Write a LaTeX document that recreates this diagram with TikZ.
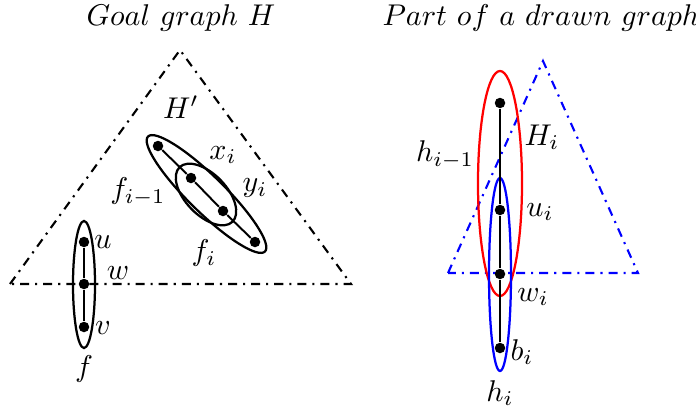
\documentclass[tikz,border=0pt]{standalone}
\usetikzlibrary{shapes.geometric}
\tikzset{
  vtx/.style={circle, fill=black, inner sep=0pt, minimum size=3.5pt},
  ring/.style={draw, ellipse, inner sep=0pt, line width=0.75pt},
  tri/.style={line width=0.7pt, dash dot},
  gedge/.style={line width=0.65pt},
  lbl/.style={inner sep=0pt},
}
\begin{document}
\begin{tikzpicture}[x=0.33333pt, y=0.33333pt]
\useasboundingbox (0,0) rectangle (696,412);
% ---------- left: goal graph
\node[lbl] (t1) at (181,394) {$Goal\ graph\ H$};
\coordinate (A) at (180,362);
\coordinate (B) at (10,128);
\coordinate (C) at (351,128);
\draw[tri] (B) -- (A) -- (C) -- cycle;
\node[ring, minimum width=54.67pt, minimum height=12pt, rotate=-44.5] (fim1) at (206.5,218) {};
\node[ring, minimum width=25.33pt, minimum height=13.67pt, rotate=-46] (fi) at (206,217.5) {};
\node[vtx] (p1) at (158,266) {};
\node[vtx] (p2) at (191,234) {};
\node[vtx] (p3) at (223,201) {};
\node[vtx] (p4) at (255,170) {};
\draw[gedge] (p1) -- (p2) -- (p3) -- (p4);
\node[ring, minimum width=7.33pt, minimum height=42.33pt] (f) at (84,127.5) {};
\node[vtx] (u) at (84,170) {};
\node[vtx] (w) at (84,128) {};
\node[vtx] (v) at (84,85) {};
\draw[gedge] (u) -- (w) -- (v);
\node[lbl] (lHp) at (181,305) {$H'$};
\node[lbl] (lx) at (223,257) {$x_i$};
\node[lbl] (ly) at (255,224) {$y_i$};
\node[lbl] (lfim1) at (138,220) {$f_{i-1}$};
\node[lbl] (lfi) at (204,159) {$f_i$};
\node[lbl] (lu) at (103,170) {$u$};
\node[lbl] (lw) at (118,139) {$w$};
\node[lbl] (lv) at (103,84) {$v$};
\node[lbl] (lf) at (84,43) {$f$};
% ---------- right: part of a drawn graph
\node[lbl] (t2) at (541,394) {$Part\ of\ a\ drawn\ graph$};
\coordinate (D) at (543,351);
\coordinate (E) at (448,139);
\coordinate (F) at (638,139);
\draw[tri, blue] (E) -- (D) -- (F) -- cycle;
\node[ring, red, minimum width=14.67pt, minimum height=75pt] (him1) at (500,228.5) {};
\node[ring, blue, minimum width=7.33pt, minimum height=64.33pt] (hi) at (500,137.5) {};
\node[vtx] (q1) at (500,309) {};
\node[vtx] (q2) at (500,202) {};
\node[vtx] (q3) at (500,138) {};
\node[vtx] (q4) at (500,64) {};
\draw[gedge] (q1) -- (q2) -- (q3) -- (q4);
\node[lbl] (lHi) at (542,275) {$H_i$};
\node[lbl] (lhim1) at (445,257) {$h_{i-1}$};
\node[lbl] (lui) at (540,200) {$u_i$};
\node[lbl] (lwi) at (533,115) {$w_i$};
\node[lbl] (lbi) at (522,60) {$b_i$};
\node[lbl] (lhi) at (500,19) {$h_i$};
\end{tikzpicture}
\end{document}
